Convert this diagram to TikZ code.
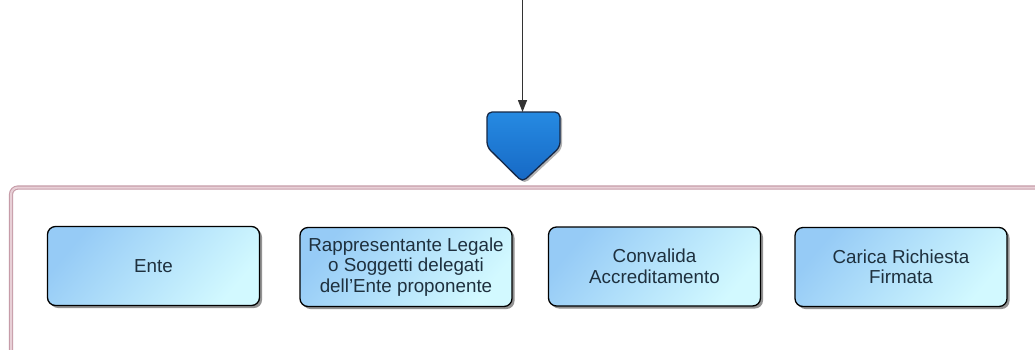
\documentclass[tikz,border=0pt]{standalone}
\usepackage{fontspec}
\setmainfont{Liberation Sans}
\usetikzlibrary{shadows,arrows.meta}
\definecolor{frameedge}{RGB}{198,156,168}
\definecolor{frameinner}{RGB}{232,208,215}
\definecolor{boxleft}{RGB}{150,203,246}
\definecolor{boxright}{RGB}{210,249,255}
\definecolor{gatelight}{RGB}{38,138,226}
\definecolor{gatedark}{RGB}{22,104,196}
\definecolor{gateedge}{RGB}{22,40,70}
\definecolor{labeltext}{RGB}{30,48,62}
\begin{document}
\begin{tikzpicture}[
        x=1pt, y=-1pt,
        font=\fontsize{18.8}{20.5}\selectfont
    ]
    \tikzset{
        stepbox/.style = {rectangle, rounded corners=8pt, draw=black, line width=1.3pt, align=center, text=labeltext, minimum width=212pt, minimum height=79pt, left color=boxleft, right color=boxright, shading angle=50, drop shadow={shadow xshift=2.5pt, shadow yshift=-2.5pt, fill=black!70, opacity=0.6}},
        gatestyle/.style = {rounded corners=5pt, draw=gateedge, line width=1.3pt, top color=gatelight, bottom color=gatedark, drop shadow={shadow xshift=2pt, shadow yshift=-2pt, fill=black!60, opacity=0.5}},
        framestyle/.style = {rounded corners=7pt, draw=frameedge, line width=1.1pt, double=frameinner, double distance=2pt, fill=white}
    }
    \clip (0,0) rectangle (1035,349);
    \fill[white] (0,0) rectangle (1035,349);
    \draw[framestyle] (11,187.5) rectangle (1060,380);
    % gateway
    \draw[gatestyle] (487,112) -- (560,112) -- (560,147) -- (522.5,182) -- (487,147) -- cycle;
    \coordinate (feed) at (522.5,-2);
    \coordinate (gatetop) at (522.5,112);
    \draw[-{Triangle[length=12pt,width=9pt]}, line width=1.4pt, draw=black!80] (feed) -- (gatetop);
    % steps
    \node[stepbox] (ente) at (153.5,266) {Ente};
    \node[stepbox] (legale) at (406,267) {Rappresentante Legale\\o Soggetti delegati\\dell’Ente proponente};
    \node[stepbox] (convalida) at (654.5,266.5) {Convalida\\Accreditamento};
    \node[stepbox] (carica) at (901,267) {Carica Richiesta\\Firmata};
\end{tikzpicture}
\end{document}
